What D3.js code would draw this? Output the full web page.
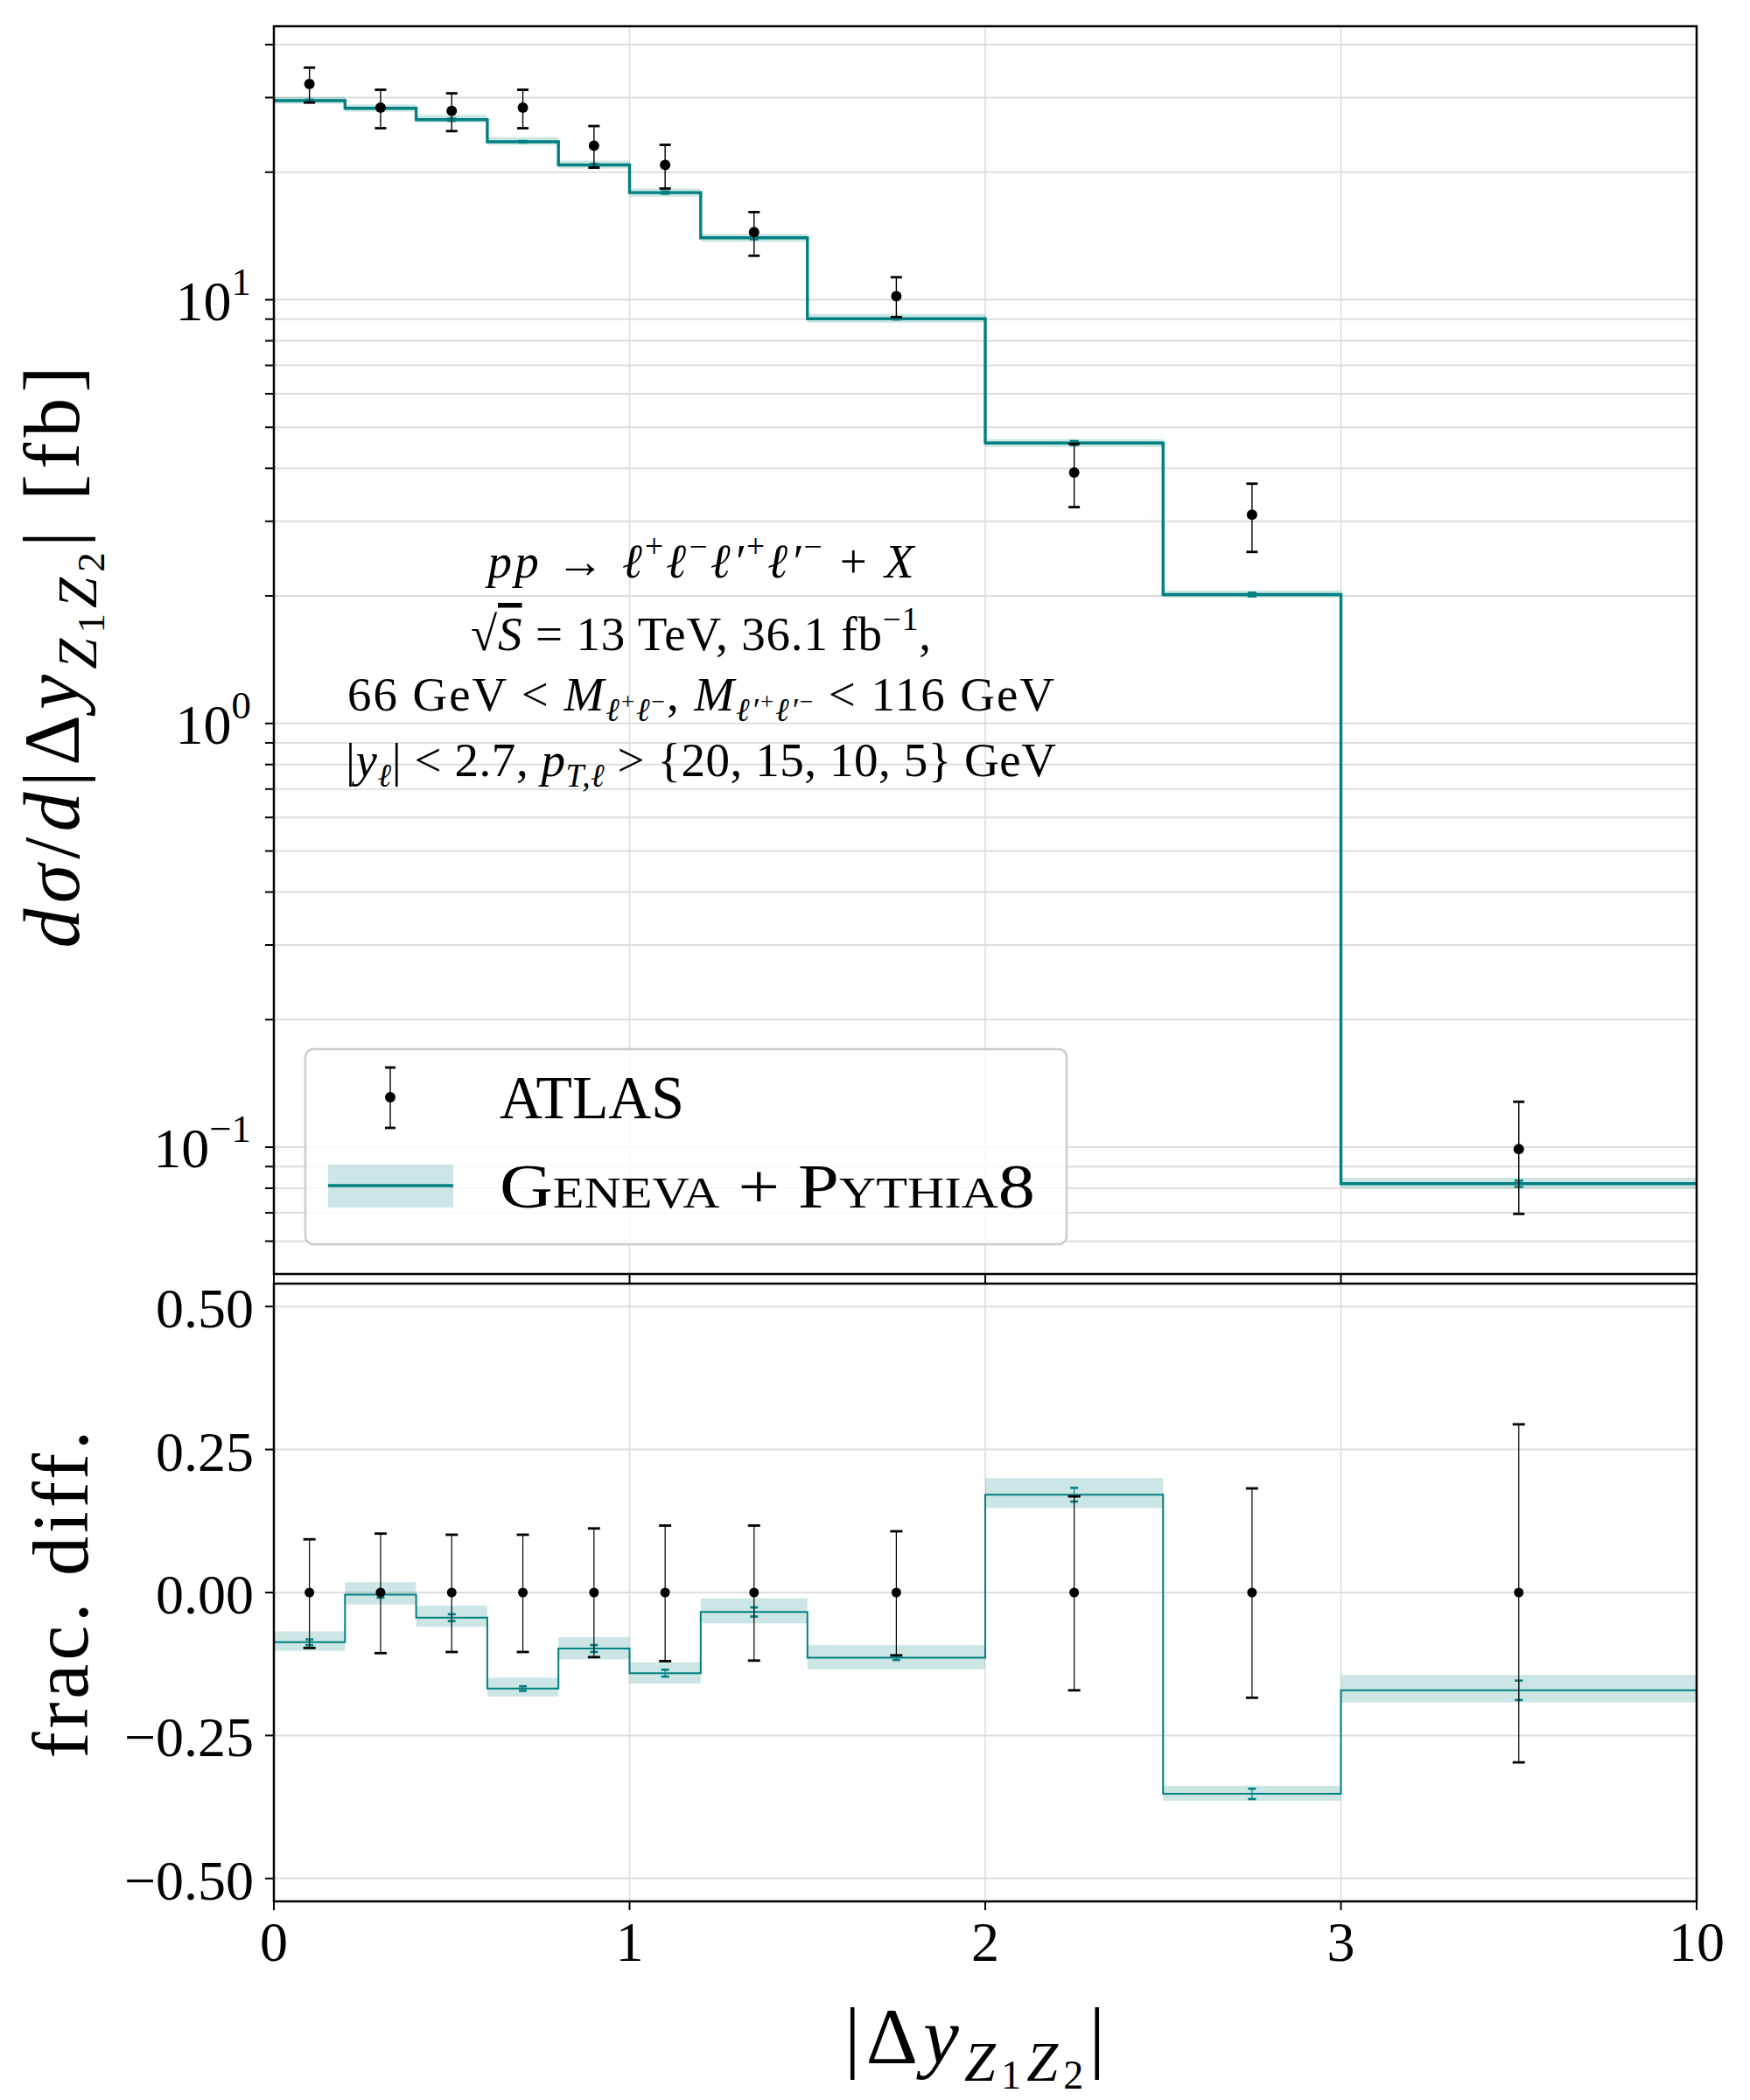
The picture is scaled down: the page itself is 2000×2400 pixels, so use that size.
<!DOCTYPE html>
<html>
<head>
<meta charset="utf-8">
<script src="https://cdn.jsdelivr.net/npm/d3@7"></script>
<style>
  body { margin: 0; background: #fff; }
  text { font-family: "Liberation Serif", "DejaVu Serif", serif; fill: #000; white-space: pre; }
</style>
</head>
<body>
<div id="chart"></div>
<script>
// bins of |dy_Z1Z2|, the last bin [3,10] is squeezed into one axis unit
var binEdges   = [0, 0.2, 0.4, 0.6, 0.8, 1.0, 1.2, 1.5, 2.0, 2.5, 3.0, 10];
var binCenters = [0.1, 0.3, 0.5, 0.7, 0.9, 1.1, 1.35, 1.75, 2.25, 2.75, 6.5];

// ATLAS data [fb]
var atlasVal = [32.3, 28.4, 27.9, 28.4, 23.1, 20.8, 14.45, 10.2, 3.91, 3.11, 0.099];
var atlasHi  = [35.3, 31.3, 30.7, 31.3, 25.7, 23.2, 16.1, 11.3, 4.57, 3.68, 0.128];
var atlasLo  = [29.2, 25.4, 25.0, 25.4, 20.5, 18.3, 12.7, 9.1, 3.24, 2.54, 0.0696];

// Geneva + Pythia8 [fb]
var genevaVal    = [29.5, 28.3, 26.6, 23.6, 20.8, 17.9, 14.0, 9.02, 4.59, 2.015, 0.082];
var genevaBandHi = [30.1, 28.9, 27.3, 24.2, 21.3, 18.3, 14.3, 9.26, 4.69, 2.06, 0.0847];
var genevaBandLo = [29.0, 27.8, 26.2, 23.2, 20.4, 17.5, 13.7, 8.83, 4.49, 1.98, 0.0800];
var genevaStat   = [0.15, 0.14, 0.16, 0.10, 0.12, 0.11, 0.11, 0.04, 0.05, 0.02, 0.0014];

// ratio panel (frac. diff.)
var atlasRatioUp    = [0.093, 0.103, 0.101, 0.101, 0.112, 0.117, 0.117, 0.107, 0.168, 0.182, 0.294];
var atlasRatioDn    = [0.097, 0.106, 0.104, 0.104, 0.113, 0.120, 0.119, 0.110, 0.171, 0.184, 0.297];
var genevaRatio     = [-0.087, -0.004, -0.044, -0.168, -0.098, -0.141, -0.034, -0.114, 0.171, -0.352, -0.171];
var genevaRatioHi   = [-0.068, 0.018, -0.023, -0.149, -0.078, -0.122, -0.010, -0.092, 0.200, -0.338, -0.144];
var genevaRatioLo   = [-0.102, -0.021, -0.060, -0.182, -0.117, -0.159, -0.054, -0.134, 0.148, -0.364, -0.192];
var genevaRatioStat = [0.005, 0.005, 0.006, 0.004, 0.006, 0.006, 0.008, 0.004, 0.012, 0.009, 0.017];

// ticks
var xTicks        = [0, 1, 2, 3, 10];
var xTickLabels   = ["0", "1", "2", "3", "10"];
var yMajorTicks   = [0.1, 1, 10];
var yMajorExps    = ["\u22121", "0", "1"];
var yMinorTicks   = [0.06, 0.07, 0.08, 0.09, 0.2, 0.3, 0.4, 0.5, 0.6, 0.7, 0.8, 0.9,
                     2, 3, 4, 5, 6, 7, 8, 9, 20, 30, 40];
var ratioTicks      = [-0.5, -0.25, 0, 0.25, 0.5];
var ratioTickLabels = ["\u22120.50", "\u22120.25", "0.00", "0.25", "0.50"];

var TEAL = "#008080";
var GRID = "#dedede";

var W = 2000, H = 2400;
var X0 = 313, X1 = 1939;
var TOP_Y0 = 30, TOP_Y1 = 1456;
var BOT_Y0 = 1467, BOT_Y1 = 2173;

var svg = d3.select("#chart").append("svg")
  .attr("width", W).attr("height", H);
svg.append("rect").attr("width", W).attr("height", H).attr("fill", "#fff");

// piecewise x scale: every tick gets the same width
var x = d3.scaleLinear()
  .domain(xTicks)
  .range(xTicks.map(function(d, i) { return X0 + i * (X1 - X0) / (xTicks.length - 1); }));

var yTop = d3.scaleLog().domain([0.0502, 44.2]).range([TOP_Y1, TOP_Y0]);
var yBot = d3.scaleLinear().domain([-0.54, 0.54]).range([BOT_Y1, BOT_Y0]);

// rich text helper: segments with italic flag, vertical level (em) and size factor
function rich(sel, segs, base, len) {
  var cur = 0;
  segs.forEach(function(s) {
    var off = -(s.lv || 0) * base;
    var t = sel.append("tspan")
      .attr("dy", off - cur)
      .style("font-size", (base * (s.s || 1)) + "px")
      .style("font-style", s.i ? "italic" : "normal")
      .text(s.t);
    if (s.over) t.style("text-decoration", "overline");
    cur = off;
  });
  // Computer Modern runs wider than Liberation Serif, stretch the spacing
  if (len) sel.attr("textLength", len).attr("lengthAdjust", "spacing");
  return sel;
}

function defClip(id, y0, y1) {
  svg.append("clipPath").attr("id", id)
    .append("rect").attr("x", X0).attr("y", y0).attr("width", X1 - X0).attr("height", y1 - y0);
}
defClip("clipTop", TOP_Y0, TOP_Y1);
defClip("clipBot", BOT_Y0, BOT_Y1);

function errBars(g, xs, lo, hi, color, lw, capW, capT) {
  var eb = g.append("g");
  eb.selectAll("line.v").data(xs).enter().append("line")
    .attr("x1", function(d) { return x(d); }).attr("x2", function(d) { return x(d); })
    .attr("y1", function(d, i) { return lo[i]; }).attr("y2", function(d, i) { return hi[i]; })
    .attr("stroke", color).attr("stroke-width", lw);
  [lo, hi].forEach(function(arr) {
    eb.selectAll(null).data(xs).enter().append("line")
      .attr("x1", function(d) { return x(d) - capW / 2; }).attr("x2", function(d) { return x(d) + capW / 2; })
      .attr("y1", function(d, i) { return arr[i]; }).attr("y2", function(d, i) { return arr[i]; })
      .attr("stroke", color).attr("stroke-width", capT);
  });
}

function stepPath(vals, yScale) {
  var pts = vals.map(function(v, i) { return [x(binEdges[i]), yScale(v)]; });
  pts.push([x(binEdges[binEdges.length - 1]), yScale(vals[vals.length - 1])]);
  return d3.line().curve(d3.curveStepAfter)(pts);
}

/* ---------------- top panel ---------------- */
var topG = svg.append("g");
var topGrid = topG.append("g");
yMinorTicks.concat(yMajorTicks).forEach(function(v) {
  topGrid.append("line").attr("x1", X0).attr("x2", X1)
    .attr("y1", yTop(v)).attr("y2", yTop(v))
    .attr("stroke", GRID).attr("stroke-width", 2);
});
xTicks.slice(1, -1).forEach(function(v) {
  topGrid.append("line").attr("x1", x(v)).attr("x2", x(v))
    .attr("y1", TOP_Y0).attr("y2", TOP_Y1)
    .attr("stroke", GRID).attr("stroke-width", 1.6);
});

// annotation text
var annot = topG.append("g");
var ANN = 55, ANN_X = 801;
var lp = { t: "+", lv: 0.42, s: 0.68 }, lm = { t: "\u2212", lv: 0.42, s: 0.68 };
rich(annot.append("text").attr("x", ANN_X).attr("y", 660).attr("text-anchor", "middle"), [
  { t: "pp", i: 1 }, { t: " \u2192 " }, { t: "\u2113", i: 1 }, lp, { t: "\u2113", i: 1 }, lm,
  { t: "\u2113\u2032", i: 1 }, lp, { t: "\u2113\u2032", i: 1 }, lm, { t: " + " }, { t: "X", i: 1 }
], ANN, 487);
rich(annot.append("text").attr("x", ANN_X).attr("y", 743).attr("text-anchor", "middle"), [
  { t: "\u221A" }, { t: "S", i: 1, over: true }, { t: " = 13 TeV, 36.1 fb" },
  { t: "\u22121", lv: 0.42, s: 0.68 }, { t: "," }
], ANN, 526);
var sub = { lv: -0.22, s: 0.68, i: 1 }, subsup = { lv: 0.02, s: 0.5 };
rich(annot.append("text").attr("x", ANN_X).attr("y", 812).attr("text-anchor", "middle"), [
  { t: "66 GeV < " }, { t: "M", i: 1 },
  Object.assign({ t: "\u2113" }, sub), Object.assign({ t: "+" }, subsup),
  Object.assign({ t: "\u2113" }, sub), Object.assign({ t: "\u2212" }, subsup),
  { t: ", " }, { t: "M", i: 1 },
  Object.assign({ t: "\u2113\u2032" }, sub), Object.assign({ t: "+" }, subsup),
  Object.assign({ t: "\u2113\u2032" }, sub), Object.assign({ t: "\u2212" }, subsup),
  { t: " < 116 GeV" }
], ANN, 808);
rich(annot.append("text").attr("x", ANN_X).attr("y", 887).attr("text-anchor", "middle"), [
  { t: "|" }, { t: "y", i: 1 }, Object.assign({ t: "\u2113" }, sub), { t: "| < 2.7, " },
  { t: "p", i: 1 }, Object.assign({ t: "T,\u2113" }, sub), { t: " > {20, 15, 10, 5} GeV" }
], ANN, 812);

var topData = topG.append("g").attr("clip-path", "url(#clipTop)");
topData.selectAll("rect.band").data(genevaVal).enter().append("rect")
  .attr("x", function(d, i) { return x(binEdges[i]); })
  .attr("width", function(d, i) { return x(binEdges[i + 1]) - x(binEdges[i]); })
  .attr("y", function(d, i) { return yTop(genevaBandHi[i]); })
  .attr("height", function(d, i) { return yTop(genevaBandLo[i]) - yTop(genevaBandHi[i]); })
  .attr("fill", TEAL).attr("fill-opacity", 0.2);
topData.append("path").attr("d", stepPath(genevaVal, yTop))
  .attr("fill", "none").attr("stroke", TEAL).attr("stroke-width", 3.4);
errBars(topData, binCenters,
  genevaVal.map(function(v, i) { return yTop(v - genevaStat[i]); }),
  genevaVal.map(function(v, i) { return yTop(v + genevaStat[i]); }),
  TEAL, 1.4, 10, 2.6);
errBars(topData, binCenters,
  atlasLo.map(function(v) { return yTop(v); }),
  atlasHi.map(function(v) { return yTop(v); }),
  "#000", 1.4, 13, 2.8);
topData.selectAll("circle").data(atlasVal).enter().append("circle")
  .attr("cx", function(d, i) { return x(binCenters[i]); })
  .attr("cy", function(d) { return yTop(d); })
  .attr("r", 6).attr("fill", "#000");

// top axes
var topAx = topG.append("g");
yMajorTicks.concat(yMinorTicks).forEach(function(v) {
  topAx.append("line").attr("x1", X0 - 10).attr("x2", X0)
    .attr("y1", yTop(v)).attr("y2", yTop(v)).attr("stroke", "#000").attr("stroke-width", 2);
});
yMajorTicks.forEach(function(v, i) {
  rich(topAx.append("text").attr("x", 287).attr("y", yTop(v) + 23).attr("text-anchor", "end"), [
    { t: "10" }, { t: yMajorExps[i], lv: 0.45, s: 0.7 }
  ], 64);
});
xTicks.forEach(function(v) {
  topAx.append("line").attr("x1", x(v)).attr("x2", x(v))
    .attr("y1", TOP_Y1).attr("y2", TOP_Y1 + 10).attr("stroke", "#000").attr("stroke-width", 2);
});
topAx.append("rect").attr("x", X0).attr("y", TOP_Y0).attr("width", X1 - X0).attr("height", TOP_Y1 - TOP_Y0)
  .attr("fill", "none").attr("stroke", "#000").attr("stroke-width", 2.5);

rich(topAx.append("text").attr("transform", "translate(90,751) rotate(-90)").attr("text-anchor", "middle"), [
  { t: "d\u03C3", i: 1 }, { t: "/" }, { t: "d", i: 1 }, { t: "|\u0394" }, { t: "y", i: 1 },
  { t: "Z", i: 1, lv: -0.22, s: 0.7 }, { t: "1", lv: -0.32, s: 0.5 },
  { t: "Z", i: 1, lv: -0.22, s: 0.7 }, { t: "2", lv: -0.32, s: 0.5 },
  { t: "| [fb]" }
], 90, 665);

// legend
var leg = svg.append("g");
leg.append("rect").attr("x", 349).attr("y", 1199).attr("width", 870).attr("height", 223)
  .attr("rx", 9).attr("fill", "#fff").attr("fill-opacity", 0.8)
  .attr("stroke", "#cccccc").attr("stroke-width", 2.5);
leg.append("line").attr("x1", 446).attr("x2", 446).attr("y1", 1220).attr("y2", 1289)
  .attr("stroke", "#000").attr("stroke-width", 1.4);
[1220, 1289].forEach(function(yy) {
  leg.append("line").attr("x1", 440).attr("x2", 452).attr("y1", yy).attr("y2", yy)
    .attr("stroke", "#000").attr("stroke-width", 2.8);
});
leg.append("circle").attr("cx", 446).attr("cy", 1254).attr("r", 6).attr("fill", "#000");
leg.append("text").attr("x", 571).attr("y", 1278).style("font-size", "70px")
  .attr("textLength", 211).attr("lengthAdjust", "spacingAndGlyphs").text("ATLAS");
leg.append("rect").attr("x", 375).attr("y", 1331).attr("width", 143).attr("height", 49)
  .attr("fill", TEAL).attr("fill-opacity", 0.2);
leg.append("line").attr("x1", 375).attr("x2", 518).attr("y1", 1355).attr("y2", 1355)
  .attr("stroke", TEAL).attr("stroke-width", 3.4);
leg.append("text").attr("x", 571).attr("y", 1380).style("font-size", "72px")
  .style("font-variant", "small-caps")
  .attr("textLength", 612).attr("lengthAdjust", "spacingAndGlyphs").text("Geneva + Pythia8");

/* ---------------- ratio panel ---------------- */
var botG = svg.append("g");
ratioTicks.forEach(function(v) {
  botG.append("line").attr("x1", X0).attr("x2", X1).attr("y1", yBot(v)).attr("y2", yBot(v))
    .attr("stroke", GRID).attr("stroke-width", 2);
});
xTicks.slice(1, -1).forEach(function(v) {
  botG.append("line").attr("x1", x(v)).attr("x2", x(v)).attr("y1", BOT_Y0).attr("y2", BOT_Y1)
    .attr("stroke", GRID).attr("stroke-width", 1.6);
});

var botData = botG.append("g").attr("clip-path", "url(#clipBot)");
botData.selectAll("rect.band").data(genevaRatio).enter().append("rect")
  .attr("x", function(d, i) { return x(binEdges[i]); })
  .attr("width", function(d, i) { return x(binEdges[i + 1]) - x(binEdges[i]); })
  .attr("y", function(d, i) { return yBot(genevaRatioHi[i]); })
  .attr("height", function(d, i) { return yBot(genevaRatioLo[i]) - yBot(genevaRatioHi[i]); })
  .attr("fill", TEAL).attr("fill-opacity", 0.2);
botData.append("path").attr("d", stepPath(genevaRatio, yBot))
  .attr("fill", "none").attr("stroke", TEAL).attr("stroke-width", 2);
errBars(botData, binCenters,
  genevaRatio.map(function(v, i) { return yBot(v - genevaRatioStat[i]); }),
  genevaRatio.map(function(v, i) { return yBot(v + genevaRatioStat[i]); }),
  TEAL, 1.2, 9, 2.6);
errBars(botData, binCenters,
  atlasRatioDn.map(function(v) { return yBot(-v); }),
  atlasRatioUp.map(function(v) { return yBot(v); }),
  "#000", 1.2, 14, 2.8);
botData.selectAll("circle").data(binCenters).enter().append("circle")
  .attr("cx", function(d) { return x(d); }).attr("cy", yBot(0))
  .attr("r", 5.5).attr("fill", "#000");

var botAx = botG.append("g");
ratioTicks.forEach(function(v, i) {
  botAx.append("line").attr("x1", X0 - 10).attr("x2", X0).attr("y1", yBot(v)).attr("y2", yBot(v))
    .attr("stroke", "#000").attr("stroke-width", 2);
  botAx.append("text").attr("x", 290).attr("y", yBot(v) + 24).attr("text-anchor", "end")
    .style("font-size", "64px").text(ratioTickLabels[i]);
});
xTicks.forEach(function(v, i) {
  botAx.append("line").attr("x1", x(v)).attr("x2", x(v)).attr("y1", BOT_Y1).attr("y2", BOT_Y1 + 10)
    .attr("stroke", "#000").attr("stroke-width", 2);
  botAx.append("text").attr("x", x(v)).attr("y", 2241).attr("text-anchor", "middle")
    .style("font-size", "64px").text(xTickLabels[i]);
});
botAx.append("rect").attr("x", X0).attr("y", BOT_Y0).attr("width", X1 - X0).attr("height", BOT_Y1 - BOT_Y0)
  .attr("fill", "none").attr("stroke", "#000").attr("stroke-width", 2.5);

botAx.append("text").attr("transform", "translate(100,1822) rotate(-90)").attr("text-anchor", "middle")
  .style("font-size", "90px").attr("textLength", 375).attr("lengthAdjust", "spacing")
  .text("frac. diff.");

rich(botAx.append("text").attr("x", 1114).attr("y", 2358).attr("text-anchor", "middle"), [
  { t: "|\u0394" }, { t: "y", i: 1 },
  { t: "Z", i: 1, lv: -0.22, s: 0.7 }, { t: "1", lv: -0.32, s: 0.5 },
  { t: "Z", i: 1, lv: -0.22, s: 0.7 }, { t: "2", lv: -0.32, s: 0.5 },
  { t: "|" }
], 92, 298);
</script>
</body>
</html>
